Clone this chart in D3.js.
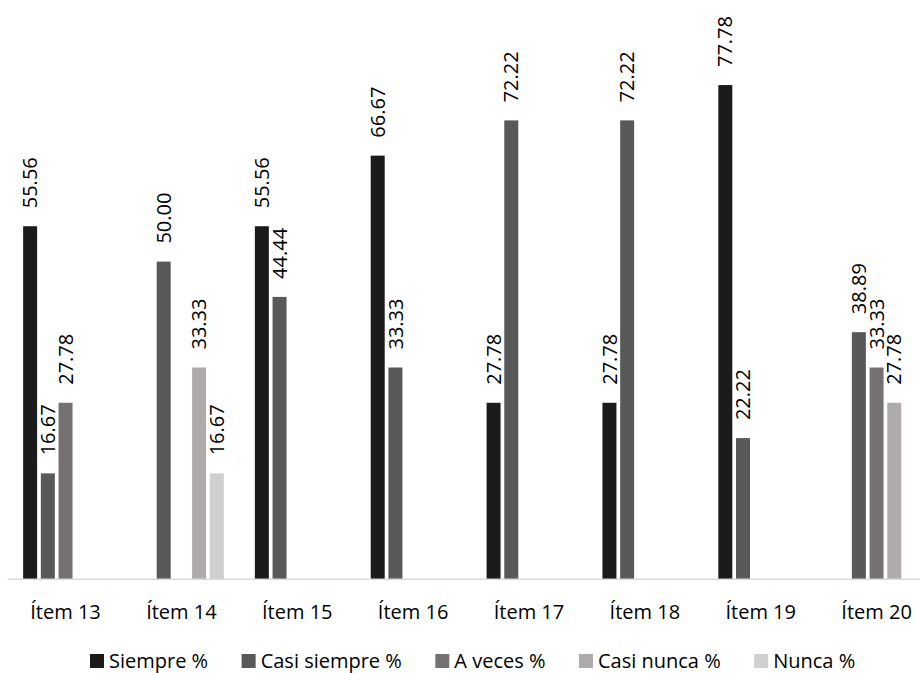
<!DOCTYPE html>
<html>
<head>
<meta charset="utf-8">
<script src="https://cdn.jsdelivr.net/npm/d3@7"></script>
<style>
  html, body { margin: 0; padding: 0; background: #fff; }
  svg { display: block; }
  text { font-family: "Open Sans", Lato, sans-serif; fill: #000; }
</style>
</head>
<body>
<svg id="chart" width="920" height="673"></svg>
<script>
// Items on the x axis
const categories = ["Ítem 13", "Ítem 14", "Ítem 15", "Ítem 16", "Ítem 17", "Ítem 18", "Ítem 19", "Ítem 20"];
// Response options (series)
const seriesNames = ["Siempre %", "Casi siempre %", "A veces %", "Casi nunca %", "Nunca %"];
// Percentages per series (null = no responses)
const siempre     = [55.56, null, 55.56, 66.67, 27.78, 27.78, 77.78, null];
const casiSiempre = [16.67, 50.00, 44.44, 33.33, 72.22, 72.22, 22.22, 38.89];
const aVeces      = [27.78, null, null, null, null, null, null, 33.33];
const casiNunca   = [null, 33.33, null, null, null, null, null, 27.78];
const nunca       = [null, 16.67, null, null, null, null, null, null];
const seriesColors = ["#1b1b1b", "#595959", "#767171", "#afabab", "#d0cece"];

const seriesValues = [siempre, casiSiempre, aVeces, casiNunca, nunca];

const svg = d3.select("#chart");

const plotLeft = 7.6, plotRight = 934.5, baseY = 579.3, topY = 7.4;
const fontSize = 20;

const x0 = d3.scaleBand().domain(categories).range([plotLeft, plotRight])
  .paddingInner(0.236).paddingOuter(0.118);
const x1 = d3.scaleBand().domain(seriesNames).range([0, x0.bandwidth()])
  .paddingInner(0.21).paddingOuter(0.105);
const y = d3.scaleLinear().domain([0, 90]).range([baseY, topY]);
const color = d3.scaleOrdinal().domain(seriesNames).range(seriesColors);

// one record per bar
const bars = [];
seriesNames.forEach((s, si) => {
  categories.forEach((c, ci) => {
    const v = seriesValues[si][ci];
    if (v != null) bars.push({ cat: c, series: s, value: v });
  });
});

// bars
svg.append("g").selectAll("rect").data(bars).join("rect")
  .attr("x", d => x0(d.cat) + x1(d.series))
  .attr("y", d => y(d.value))
  .attr("width", x1.bandwidth())
  .attr("height", d => baseY - y(d.value))
  .attr("fill", d => color(d.series));

// value labels, rotated above each bar
svg.append("g").selectAll("text").data(bars).join("text")
  .attr("transform", d => {
    const cx = x0(d.cat) + x1(d.series) + x1.bandwidth() / 2;
    return `translate(${cx + 7.2},${y(d.value) - 18}) rotate(-90)`;
  })
  .attr("font-size", fontSize)
  .attr("text-anchor", "start")
  .text(d => d.value.toFixed(2));

// x axis baseline
svg.append("line")
  .attr("x1", plotLeft).attr("x2", 920)
  .attr("y1", baseY).attr("y2", baseY)
  .attr("stroke", "#d9d9d9").attr("stroke-width", 1.5);

// category labels
const xAxis = d3.axisBottom(x0).tickSize(0).tickPadding(0);
const ax = svg.append("g").attr("transform", `translate(0,${baseY})`).call(xAxis);
ax.select(".domain").remove();
ax.selectAll("text")
  .attr("y", 39.5)
  .attr("dy", 0)
  .attr("font-size", fontSize)
  .attr("font-family", "'Open Sans', sans-serif")
  .attr("fill", "#000");

// legend
const legend = svg.append("g").attr("transform", "translate(90,0)");
let lx = 0;
seriesNames.forEach((s, i) => {
  const g = legend.append("g").attr("transform", `translate(${lx},0)`);
  g.append("rect").attr("x", 0).attr("y", 654).attr("width", 14).attr("height", 14)
    .attr("fill", seriesColors[i]);
  const t = g.append("text").attr("x", 19).attr("y", 668).attr("font-size", fontSize).text(s);
  lx += 19 + t.node().getComputedTextLength() + 33.5;
});
</script>
</body>
</html>
